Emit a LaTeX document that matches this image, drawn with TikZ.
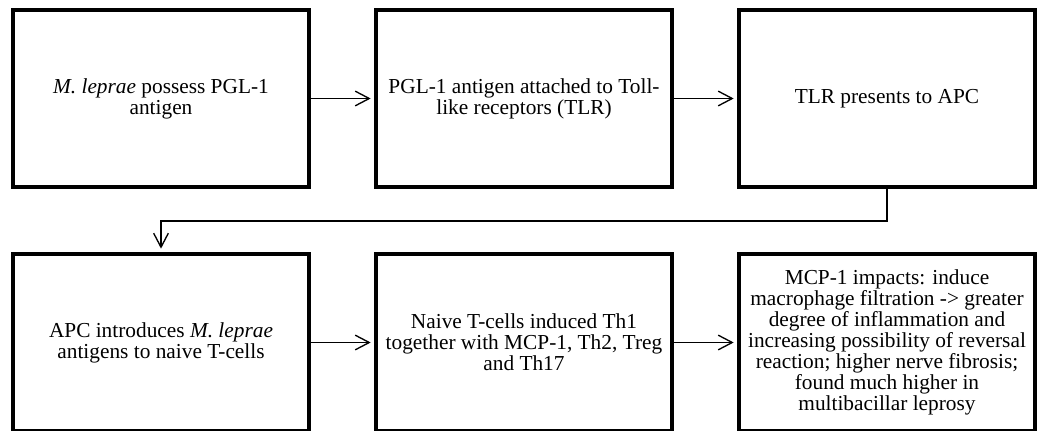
\documentclass[tikz,border=0pt]{standalone}
\usepackage{fontspec}
\setmainfont{Liberation Serif}
\usetikzlibrary{positioning,arrows.meta}
\tikzset{
    stepbox/.style = {
        draw,
        line width=3pt,
        minimum width=222pt,
        minimum height=132.75pt,
        outer sep=0pt,
        align=center,
        font=\fontsize{16pt}{15.8pt}\selectfont,
        },
    link/.style = {
        line width=1pt,
        -{Straight Barb[length=10.5pt,width=11pt]},
        shorten >=4pt,
        },
}

\begin{document}
\begin{tikzpicture}[node distance=50.25pt]
    \useasboundingbox (-120.75pt,73.875pt) rectangle (660.75pt,-249.375pt);

    % top row
    \node[stepbox] (pgl) at (0,0) {\textit{M. leprae} possess PGL-1\\antigen};
    \node[stepbox, right=of pgl] (tlr) {PGL-1 antigen attached to Toll-\\like receptors (TLR)};
    \node[stepbox, right=of tlr] (apc) {TLR presents to APC};

    % bottom row
    \node[stepbox, below=of pgl] (intro) {APC introduces \textit{M. leprae}\\antigens to naive T-cells};
    \node[stepbox, right=of intro] (naive) {Naive T-cells induced Th1\\together with MCP-1, Th2, Treg\\and Th17};
    \node[stepbox, right=of naive] (mcp) {MCP-1 impacts: induce\\macrophage filtration -> greater\\degree of inflammation and\\increasing possibility of reversal\\reaction; higher nerve fibrosis;\\found much higher in\\multibacillar leprosy};

    \draw[link] (pgl) -- (tlr);
    \draw[link] (tlr) -- (apc);
    \draw[link] (apc.south) -- ++(0,-25.5pt) -| (intro.north);
    \draw[link] (intro) -- (naive);
    \draw[link] (naive) -- (mcp);
\end{tikzpicture}
\end{document}
